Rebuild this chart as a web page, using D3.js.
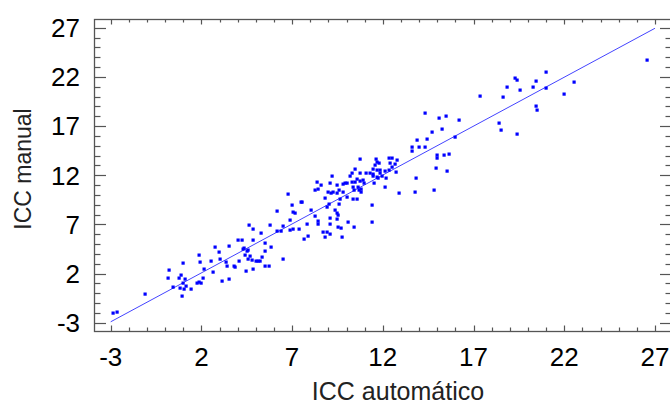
<!DOCTYPE html>
<html><head><meta charset="utf-8">
<script src="https://cdn.jsdelivr.net/npm/d3@7"></script>
<style>body{margin:0;background:#fff}svg{display:block}</style>
</head><body><svg id="c" width="670" height="405"></svg>
<script>
const xTicks = [-3, 2, 7, 12, 17, 22, 27];
const yTicks = [-3, 2, 7, 12, 17, 22, 27];
const xAxisTitle = "ICC automático";
const yAxisTitle = "ICC manual";
const fitX = [-3, 27];
const fitY = [-2.91, 26.94];
const ptsX = [-2.89,-2.64,-1.11,0.21,0.16,0.45,0.77,0.88,0.82,0.95,1.00,1.11,1.06,1.15,1.00,1.43,1.74,1.88,1.96,1.88,1.92,2.10,2.16,2.51,2.66,2.77,2.99,3.03,3.14,3.34,3.43,3.50,3.50,3.80,3.87,4.03,4.22,4.09,4.28,4.35,4.40,4.46,4.50,4.59,4.59,4.68,4.77,4.83,4.62,4.86,4.86,5.01,5.14,5.23,5.30,5.36,5.49,5.49,5.52,5.71,5.78,5.85,6.15,6.18,6.40,6.51,6.51,6.76,6.88,6.88,7.01,7.07,7.16,7.07,7.38,7.47,7.66,7.86,7.80,8.03,8.25,8.43,8.43,8.69,8.83,8.91,9.09,9.09,9.46,9.51,10.08,9.71,10.41,11.40,11.40,9.07,9.75,9.46,9.53,9.38,9.60,9.05,8.81,8.36,8.58,9.09,9.79,9.92,10.04,10.29,10.47,10.56,10.74,10.89,10.96,10.37,10.65,10.78,11.51,12.12,8.26,8.44,9.00,9.13,9.27,9.46,9.60,9.82,10.80,10.01,9.64,10.37,10.56,12.89,13.78,7.53,8.91,9.18,10.19,10.29,10.47,10.74,11.07,11.29,11.44,10.74,11.63,11.70,12.36,12.49,12.80,11.57,11.81,12.40,12.49,12.67,12.73,11.85,11.66,11.44,11.66,11.75,11.85,11.94,12.18,12.36,12.12,11.48,13.59,13.59,14.01,14.33,13.87,14.45,14.97,14.97,15.36,15.65,14.93,15.54,13.85,14.81,14.33,15.48,15.11,16.20,15.25,14.70,15.98,17.36,18.64,18.86,19.30,19.41,19.55,20.26,20.45,21.00,21.00,21.97,22.52,20.45,20.52,18.41,18.52,19.41,26.55,9.46,10.41,10.70];
const ptsY = [-2.05,-1.95,-0.12,2.35,1.54,0.65,1.57,1.87,0.55,-0.26,1.00,1.40,0.42,0.72,3.03,0.42,1.00,1.10,1.00,3.91,3.13,1.54,2.42,3.24,2.12,4.72,4.15,3.47,1.26,3.13,2.79,1.44,4.82,2.79,2.69,5.40,5.40,3.24,4.49,4.59,3.91,2.22,4.25,4.39,3.47,3.81,3.37,2.45,6.96,6.49,5.37,3.24,3.24,3.24,6.15,3.70,5.07,4.25,2.79,2.79,6.96,4.72,8.38,6.35,6.35,6.83,3.47,10.08,7.41,6.42,8.96,8.28,8.12,6.55,6.49,9.27,5.47,5.84,7.06,8.49,7.84,7.37,7.06,6.25,5.71,6.25,7.64,7.06,7.54,6.76,7.26,6.59,6.76,8.96,7.26,6.01,5.68,8.12,7.95,8.49,9.03,9.03,9.68,11.33,11.00,11.17,11.07,11.17,11.17,11.33,11.33,11.58,11.40,11.51,11.17,10.83,10.83,10.56,11.17,10.83,10.49,10.56,10.32,10.21,10.32,10.15,10.49,10.32,10.32,9.81,9.54,9.54,9.54,10.15,10.32,9.30,8.79,11.91,11.91,12.19,12.60,12.19,12.19,12.19,12.12,13.64,13.64,13.37,13.71,13.71,13.54,13.03,13.27,13.21,12.86,13.13,12.35,12.52,12.52,11.91,11.78,11.68,12.19,11.91,11.68,12.52,12.45,12.60,14.89,14.46,14.83,14.89,15.58,15.68,14.05,13.71,14.02,14.12,12.76,12.42,11.74,10.52,18.29,18.05,17.84,17.61,16.69,16.36,15.85,20.08,19.95,20.97,21.88,21.65,20.66,20.97,21.55,22.46,20.87,20.29,21.45,19.07,18.63,17.27,16.59,16.16,23.68,11.00,10.49,10.49];

const svg = d3.select("#c");
const L = 94, R = 672, T = 19, B = 331;
const x = d3.scaleLinear().domain([-3.92, 27.94]).range([L, R]);
const y = d3.scaleLinear().domain([-3.845, 27.885]).range([B, T]);
const minor = d3.range(-3, 28, 1);
const axisCol = "#555";
const font = "'Liberation Sans', Arial, sans-serif";

// frame
svg.append("rect").attr("x", L + 0.5).attr("y", T + 0.5).attr("width", R - L).attr("height", B - T)
  .attr("fill", "none").attr("stroke", axisCol).attr("stroke-width", 1.3);

const isMajor = v => xTicks.includes(v);
const g = svg.append("g").attr("stroke", axisCol).attr("stroke-width", 1.2);
minor.forEach(v => {
  const px = Math.round(x(v)) + 0.5, len = isMajor(v) ? 5.5 : 3.5;
  g.append("line").attr("x1", px).attr("x2", px).attr("y1", B).attr("y2", B - len);
  g.append("line").attr("x1", px).attr("x2", px).attr("y1", T).attr("y2", T + len);
});
minor.forEach(v => {
  const py = Math.round(y(v)) + 0.5, len = yTicks.includes(v) ? 12 : 6.5;
  g.append("line").attr("y1", py).attr("y2", py).attr("x1", L).attr("x2", L + len);
  g.append("line").attr("y1", py).attr("y2", py).attr("x1", R).attr("x2", R - len);
});

// tick labels
svg.append("g").selectAll("text").data(xTicks).join("text")
  .attr("x", d => x(d)).attr("y", 366).attr("text-anchor", "middle")
  .attr("font-family", font).attr("font-size", 26).attr("fill", "#000").text(d => d);
svg.append("g").selectAll("text").data(yTicks).join("text")
  .attr("x", 80).attr("y", d => y(d)).attr("dy", "0.36em").attr("text-anchor", "end")
  .attr("font-family", font).attr("font-size", 26).attr("fill", "#000").text(d => d);

// titles
svg.append("text").attr("x", 398).attr("y", 400).attr("text-anchor", "middle")
  .attr("font-family", font).attr("font-size", 25).attr("fill", "#222").text(xAxisTitle);
svg.append("text").attr("transform", "translate(31,169) rotate(-90)").attr("text-anchor", "middle")
  .attr("font-family", font).attr("font-size", 23).attr("fill", "#222").text(yAxisTitle);

// fit line
svg.append("line").attr("x1", x(fitX[0])).attr("y1", y(fitY[0])).attr("x2", x(fitX[1])).attr("y2", y(fitY[1]))
  .attr("stroke", "#4444ff").attr("stroke-width", 1);

// points
const pts = ptsX.map((v, i) => [v, ptsY[i]]);
svg.append("g").selectAll("rect").data(pts).join("rect")
  .attr("x", d => Math.round(x(d[0])) - 1.5).attr("y", d => Math.round(y(d[1])) - 1.5)
  .attr("width", 3.2).attr("height", 3.2).attr("fill", "#0000ff");
</script></body></html>
